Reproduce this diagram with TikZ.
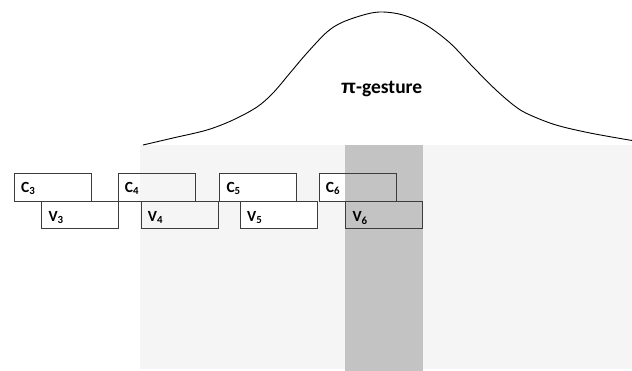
\documentclass[tikz,border=0pt]{standalone}
\usepackage{fontspec}
\setmainfont{Carlito}
\newfontfamily\pifont{Liberation Sans}
\usetikzlibrary{calc}
\pgfdeclarelayer{back}
\pgfsetlayers{back,main}
\definecolor{lightbg}{HTML}{F5F5F5}
\definecolor{darkcol}{HTML}{C2C3C2}
\definecolor{edge}{HTML}{3C3C3C}
\begin{document}
\begin{tikzpicture}[x=1pt,y=-1pt,
  box/.style={draw=edge, line width=0.9pt, minimum width=77pt, minimum height=27.4pt, inner sep=0pt, anchor=north west},
  lbl/.style={font=\fontsize{15.5}{18}\selectfont\bfseries, inner sep=0pt, anchor=base west},
  curve/.style={draw=black, line width=0.9pt}]
\useasboundingbox (0,0) rectangle (632,371);
% boxes
\node[box] (C3) at (14,173.3) {};
\node[box] (V3) at (41.3,200.7) {};
\node[box] (C4) at (117.7,173.3) {};
\node[box] (V4) at (140.7,200.7) {};
\node[box] (C5) at (219.3,173.3) {};
\node[box] (V5) at (240,200.7) {};
\node[box] (C6) at (318.7,173.3) {};
\node[box] (V6) at (345.3,200.7) {};
% labels
\foreach \n/\d in {C3/3,C4/4,C5/5,C6/6}{
  \node[lbl] (t\n) at ($(\n.north west)+(7,19)$) {C\textsubscript{\d}};
}
\foreach \n/\d in {V3/3,V4/4,V5/5,V6/6}{
  \node[lbl] (t\n) at ($(\n.north west)+(7,21)$) {V\textsubscript{\d}};
}
\begin{pgfonlayer}{back}
  \fill[lightbg] (140,145) rectangle (632,369);
  \foreach \n in {C5,V5,C6}{
    \fill[white] (\n.north west) rectangle (\n.south east);
  }
  \fill[darkcol] (345.3,145) rectangle (422.5,371);
\end{pgfonlayer}
% curve
\draw[curve] plot[smooth, tension=0.55] coordinates {
  (143,145) (173,138) (207,130) (233,120) (257,107) (273,93) (290,73)
  (307,53) (327,32) (343,22) (367,14) (383,12) (403,15) (426,25)
  (450,43) (473,67) (496,90) (516,107) (530,115) (556,125) (590,133) (632,140.5)};
\node[font=\fontsize{19.5}{22}\selectfont\bfseries, anchor=base, inner sep=0pt] (pi) at (381.7,93.3) {{\pifont π}-gesture};
\end{tikzpicture}
\end{document}
